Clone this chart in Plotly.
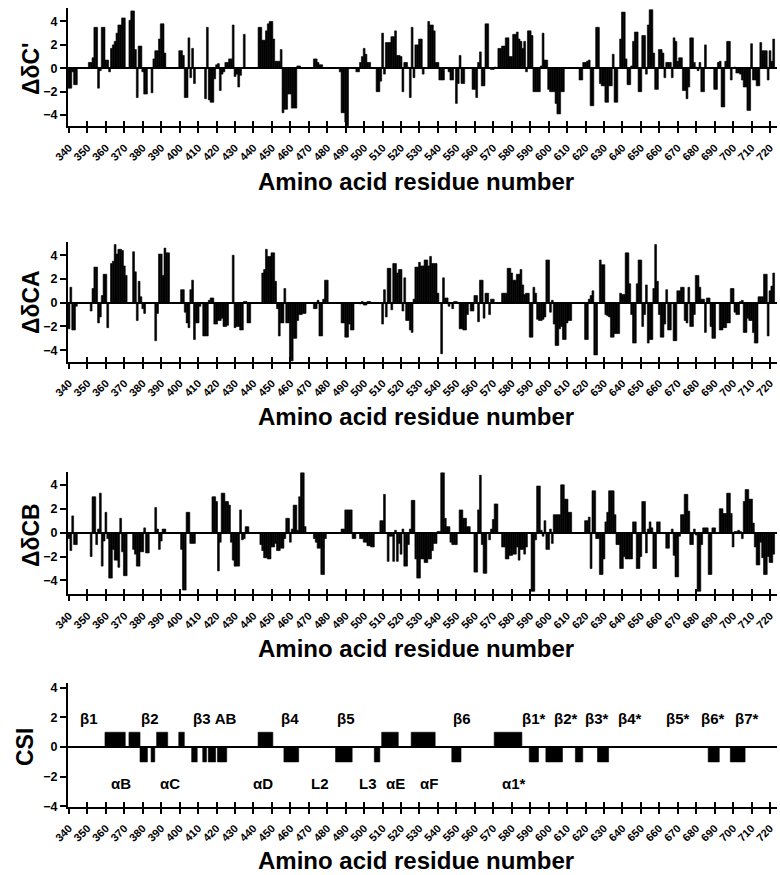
import plotly.graph_objects as go

# ---------------- data (residues 340..722) ----------------
residues = list(range(340, 723))

dCp = [
    -1.7, -1.7, -0.3, -1.4, -1.4, 0, 0, 0, 0, 0,            # 340
    0, 0.5, 0.5, 0.9, 3.5, 3.5, -1.7, -0.2, 3.5, 3.5,         # 350
    0.7, 0.7, -0.3, 1.7, 2.0, 2.3, 3.0, 3.7, 3.7, 4.3,        # 360
    4.3, 0, 0, 4.1, 4.9, 4.9, 1.6, -2.5, 1.9, 1.9,            # 370
    -0.3, -2.2, -2.2, 0, 0, -2.1, 0.8, 1.5, 1.5, 2.5,         # 380
    3.8, 3.8, 1.3, 0, 0, 0, 0, 0, 0, 0,                       # 390
    1.5, 1.5, 1.1, -2.5, -2.5, 2.6, -0.8, 1.7, -1.3, 0,       # 400
    0, 0, 0, 0, -2.6, 3.5, -2.7, -2.9, -2.9, -0.9,            # 410
    0.3, 0.4, -1.9, -0.5, -0.3, 0.5, 0.5, 0.8, 0.8, 3.7,      # 420
    -0.7, -0.5, -1.6, -0.6, 0, 2.9, 0, 0, 0, 0,               # 430
    0, 0, 0, 3.5, 3.5, 2.4, 2.4, 3.2, 3.8, 4.0,               # 440
    4.0, 2.5, 0.6, 0.6, 0.6, 1.6, -3.8, -3.5, -3.5, -2.2,     # 450
    -2.2, -3.4, -3.4, -3.4, 0.2, 0.2, 0, 0, 0, 0,             # 460
    0, 0, 0, 0.8, 0.8, 0.5, 0.3, 0.3, 0, 0,                   # 470
    0, 0, 0, 0, 0, 0, 0, -0.3, -3.8, -3.8,                    # 480
    -4.6, -4.9, 0, 0, 0, 0, -0.3, -0.3, 0.5, 1.0,             # 490
    1.7, 1.2, 0.5, 0.5, 0, 0, 0, -2.0, -2.0, -1.1,            # 500
    3.0, -0.5, 2.2, 2.2, 2.2, 2.7, 2.7, 3.2, 1.1, 1.1,        # 510
    1.0, -2.0, 0.5, 0.5, 0.1, -2.5, 3.5, -0.8, 2.0, 2.0,      # 520
    2.5, 2.5, -0.5, 0, 0, 4.0, 3.7, 3.7, 3.2, 0.5,            # 530
    0.5, -1.0, -1.0, -1.0, 0, 0, -0.3, -1.0, -1.0, 0,         # 540
    -3.0, -1.3, 1.1, -1.3, -1.3, 0, 0, 0, 0, -1.8,            # 550
    -1.8, -2.5, 0.5, 1.4, -1.5, -1.5, 3.8, 3.8, 0, -0.1,      # 560
    -0.1, 0.1, 0, 1.7, 1.7, 1.9, 1.9, 2.6, 2.6, 1.0,          # 570
    1.0, 2.9, 2.9, 3.1, 2.5, 2.3, 1.7, 2.3, -0.3, 3.2,        # 580
    3.2, 2.8, -2.0, -2.0, -2.0, -2.0, 0.2, 3.0, 0.7, 0.7,     # 590
    -1.8, -2.0, -2.0, -2.0, -3.0, -3.9, -3.9, -2.0, -2.0, 0,  # 600
    0, 0, 0, 0, 0, 0, 0, -1.0, -1.0, 0.5,                     # 610
    0.5, 0.6, 0.7, -3.2, -3.2, 0, 3.5, 3.5, -1.3, -1.5,       # 620
    -1.5, -2.9, -2.9, -1.5, -1.5, 1.2, -2.9, -2.9, 0, 2.5,    # 630
    4.8, 4.8, 0.8, -1.4, -1.4, 0.2, 2.3, 3.1, 3.1, -2.0,      # 640
    -2.0, 2.8, 2.8, -0.5, 3.7, 5.0, 5.0, 1.3, -1.8, -1.8,     # 650
    1.6, 1.6, 1.3, -0.8, 0.5, 0.5, 0.5, -0.8, 2.6, 2.3,       # 660
    0.6, 0.9, 0.9, -1.9, -1.9, -2.6, -1.6, 2.6, 2.6, 0.5,     # 670
    0.1, -0.2, 0.5, -2.0, -2.0, 2.0, 0, 0, 0, 0,              # 680
    -1.8, -1.8, 0.5, 0.6, -3.3, -3.3, 0.6, 2.3, 2.3, -1.0,    # 690
    0, 0.1, -0.4, -0.4, -0.5, -1.0, -1.6, -1.6, -3.6, -3.6,   # 700
    2.1, -1.0, -1.0, -1.5, -1.5, 2.2, 1.5, 1.5, 1.5, -1.0,    # 710
    1.5, 0.6, 2.5,                                            # 720
]

dCA = [
    -2.2, 1.3, -2.3, -2.3, -0.3, 0, 0, 0, 0, 0,               # 340
    0, 0, -0.7, 1.2, 3.0, 3.0, -1.7, -1.2, 0.6, 2.4,          # 350
    2.4, -2.1, 0, 3.3, 3.5, 4.9, 4.1, 4.5, 4.5, 4.4,          # 360
    3.1, 2.3, 0, 0, 0, 4.3, 2.6, -1.5, 1.8, 0.5,              # 370
    -0.5, -0.9, 0, 0, 0, 0, 0, -3.2, -0.9, 4.1,               # 380
    4.1, 2.3, 4.6, 4.2, 4.2, 0, 0, 0, 0, 0,                   # 390
    0, 1.1, 1.1, -0.8, -1.7, -2.1, 1.1, 1.9, -3.1, -1.7,      # 400
    -1.7, -0.3, 0, -2.8, -2.8, -2.8, 0.2, 0.4, 0.4, -1.8,     # 410
    -1.8, -1.5, -1.5, -1.3, -2.0, -2.0, -1.9, 0, 0, 4.0,      # 420
    -2.1, -2.0, -2.0, -2.3, -2.3, 0.1, 0.1, -1.7, -1.7, 0,    # 430
    0, 0, 0, 0, 0, 2.5, 2.8, 4.5, 3.9, 3.9,                   # 440
    4.2, 4.2, 1.8, -0.5, -2.8, -1.7, -1.7, 1.2, -1.7, -1.7,   # 450
    -4.9, -4.9, -3.0, -3.0, -1.5, -1.0, -1.0, -0.9, -0.9, 0,  # 460
    0, 0, 0, -0.5, -0.5, 0.2, -2.8, -2.8, 0.3, 1.9,           # 470
    1.9, 0, 0, 0, 0, 0, 0, 0, -1.7, -1.7,                     # 480
    -2.9, -2.9, -1.8, -2.3, -2.3, 0, 0, 0, -0.1, 0.1,         # 490
    -0.2, -0.2, 0.1, 0.1, 0, 0, 0, 0, 0, 0,                   # 500
    -1.8, 1.1, -1.2, 2.9, 2.9, -0.6, 3.3, 3.3, 2.5, 2.8,      # 510
    2.8, -0.7, 2.1, -1.5, -1.5, -2.3, -2.5, 0.3, 3.0, 3.0,    # 520
    3.4, 3.1, 3.1, 3.6, 3.6, 3.1, 3.9, 3.3, 3.3, 3.3,         # 530
    0.8, 0, -4.3, 2.1, 0.4, 0.4, -0.3, 0, -0.5, 0.1,          # 540
    0.1, 0, -2.2, -2.2, -2.3, -2.3, -1.0, 0, -0.7, -0.7,      # 550
    0.6, 0.6, -1.6, 1.9, 1.9, -1.3, 0.8, 0.8, -1.0, 0.3,      # 560
    0.3, 0, 0, 0, 0, 0.8, 0.8, 0.8, 2.9, 2.9,                 # 570
    2.5, 1.9, 1.9, 2.4, 2.4, 2.8, 1.5, 0.7, 0.8, 0.8,         # 580
    -2.9, -2.9, 1.3, 0.8, -1.4, -1.5, -1.5, -1.4, -1.2, 3.6,  # 590
    3.6, -0.8, 0.2, -1.8, -3.6, -3.6, -2.2, -2.0, -3.1, -3.1, # 600
    -1.7, -1.5, -1.5, 0, 0, 0, 0, 0, 0, 0,                    # 610
    -3.1, -3.1, 0.3, 0.6, 1.0, -4.4, -4.4, 0, 3.6, 3.2,       # 620
    3.2, -1.0, -1.1, -1.2, -2.9, -2.9, -2.6, -2.6, -2.6, 0.8, # 630
    0.7, 0.7, 4.2, 4.2, 1.6, -1.0, -3.4, -3.4, 1.6, 3.6,      # 640
    3.6, -2.0, -1.0, 1.5, -3.4, -3.1, -3.1, 1.2, 4.9, 1.8,    # 650
    -1.0, -2.9, -2.9, -1.8, 1.1, -2.3, -2.3, 0, -3.2, -3.2,   # 660
    1.0, 1.0, 1.3, 1.3, -1.5, -1.7, 1.3, -2.0, -2.0, -1.0,    # 670
    2.3, 2.3, 1.3, 0.3, 0.3, -2.5, 0.4, 0.4, -2.0, -3.0,      # 680
    -3.0, 0, 0, -2.3, -2.3, -2.1, -2.1, -1.7, -1.7, 1.2,      # 690
    1.2, -0.8, -1.0, -1.0, 0.1, 0.2, -2.5, -2.5, -1.3, -1.5,  # 700
    -1.5, -2.5, -3.4, -3.4, 0.5, 0.5, 0.5, 2.4, 2.4, -2.8,    # 710
    1.0, 1.4, 2.5,                                            # 720
]

dCB = [
    -0.5, -1.5, 1.4, -1.0, -1.0, 0, 0, 0, 0, 0,               # 340
    0, 0, -2.0, 3.0, 3.0, -1.0, 0.3, 3.3, -2.8, -0.7,         # 350
    1.7, -0.5, -3.8, -3.8, -1.4, -2.3, -2.3, -2.9, 1.2, -1.6, # 360
    -3.6, -3.6, 0, 0, 0, -1.4, -1.8, -2.8, -2.8, -1.6,        # 370
    -1.6, 0.4, -1.7, -1.7, 0, 0, 0, 2.1, 0.3, -1.4,           # 380
    -0.7, 0.3, 0.3, 0, 0, 0, 0, 0, 0, 0,                      # 390
    0, -1.4, -4.8, -4.8, 1.7, 1.7, -0.9, -0.9, -0.9, 0,       # 400
    0, 0, 0, 0, 0, 0, 0, 0, 3.0, 3.0,                         # 410
    2.6, -3.2, -0.8, 3.3, 3.3, 2.6, 2.6, 2.3, -0.8, -2.3,     # 420
    -2.8, -2.8, -2.8, 1.9, -0.6, -0.5, 0.5, 0.5, 0, 0,        # 430
    0, 0, 0, 0, -1.0, -1.5, -2.1, -2.1, -2.2, -2.2,           # 440
    -1.2, -1.2, -0.9, -1.5, -1.5, -1.3, -1.3, -0.5, 1.2, 1.2, # 450
    -0.8, 0.3, 2.3, 2.3, 0.2, 3.0, 5.0, 5.0, 0.5, 0,          # 460
    0, 0, 0, -0.5, -0.8, -1.3, -1.3, -3.5, -3.5, -0.5,        # 470
    0, 0, 0, 0, 0, 0, 0, 0, 0.3, 0.3,                         # 480
    1.9, 1.9, 1.9, 1.9, -0.5, -0.5, 0, 0, -0.5, -0.5,         # 490
    -0.8, -0.8, -1.1, -1.1, -1.2, -1.2, 0, 0, 0, 1.0,         # 500
    1.0, 3.2, 0, -2.4, -0.3, -0.3, -2.4, 0.2, -2.4, -0.9,     # 510
    -1.8, 0.3, -2.8, -2.8, -1.0, 0.3, 2.7, 2.7, -2.2, -3.8,   # 520
    -3.8, -2.2, -2.2, -2.5, -2.5, -2.2, -2.2, -1.5, -0.9, -0.9,  # 530
    0.1, 0.1, 5.0, 5.0, 1.2, 0.5, 0.5, -0.8, -1.0, -1.0,      # 540
    -1.0, 0, 1.9, 1.9, 1.2, 1.2, 0.5, 0.5, 0, 0,              # 550
    -3.3, -3.3, 1.9, 4.8, -1.0, -3.4, -3.4, 0, -0.6, 0.3,     # 560
    1.1, 2.4, 2.4, 0, 0, -1.2, -1.2, -2.2, -2.2, -1.9,        # 570
    -1.9, -1.8, -1.8, -1.2, -2.3, -1.4, -1.4, -1.8, -1.2, 0,  # 580
    0, -4.9, -4.9, -0.6, 3.9, 3.9, 0.2, -0.3, 1.0, -1.4,      # 590
    -1.4, 0.3, -0.9, 1.5, 1.5, 1.5, 1.5, 4.0, 4.0, 2.8,       # 600
    2.8, 1.7, 1.7, 0, 0, 0, 0, 0, 0, 0,                       # 610
    1.0, 1.0, 1.3, -3.0, 3.5, 3.5, -0.5, -0.5, -3.5, -3.5,    # 620
    -2.2, 0.9, 1.7, 3.5, 3.5, 3.5, 1.5, -1.0, -1.0, -3.0,     # 630
    -3.0, -2.0, -2.2, -2.2, -2.2, -2.2, 0.9, 0.9, -3.0, -3.0, # 640
    -2.0, 2.6, 2.6, -1.7, 0.3, 0.9, 0.4, -3.0, -3.0, 0.9,     # 650
    0.9, 0, 0, 0, -1.3, -1.3, 0, 0.3, -1.9, -3.7,             # 660
    -3.7, -0.3, 1.5, 1.5, 3.2, 3.2, 1.8, -1.0, -1.0, 0.3,     # 670
    -0.2, -4.9, -4.9, -1.0, 0.4, 0.4, 0.4, -3.5, -3.5, 0.4,   # 680
    0.4, 0, 0, 2.0, 2.0, 1.6, 1.6, 3.3, 3.3, 1.6,             # 690
    -1.2, 0.1, 0.1, 0.2, 0.1, -0.5, 2.6, 3.6, 3.6, 2.8,       # 700
    2.8, 0.8, -1.2, -2.7, -2.7, -0.8, -2.1, -3.5, -3.5, -2.0, # 710
    -2.5, -2.5, -1.8,                                         # 720
]

# CSI consensus blocks: first residue, last residue, index
csi_start = [360, 373, 379, 385, 388, 400, 407, 413, 416, 421, 443, 457, 485,
             506, 510, 526, 548, 571, 590, 599, 615, 627, 687, 699]
csi_end = [370, 378, 382, 386, 393, 402, 409, 414, 419, 425, 450, 464, 493,
           508, 518, 538, 552, 585, 594, 607, 618, 632, 692, 706]
csi_value = [1, 1, -1, -1, 1, 1, -1, -1, -1, -1, 1, -1, -1,
             -1, 1, 1, -1, 1, -1, -1, -1, -1, -1, -1]

# secondary-structure labels
upper_labels = ["β1", "β2", "β3 AB", "β4", "β5", "β6", "β1*", "β2*", "β3*",
                "β4*", "β5*", "β6*", "β7*"]
upper_label_res = [351, 384, 419, 460, 490, 553, 592, 609, 626, 644, 670, 689, 707]
lower_labels = ["αB", "αC", "αD", "L2", "L3", "αE", "αF", "α1*"]
lower_label_res = [368, 395, 445, 476, 502, 517, 535, 581]

y_titles = ["ΔδC'", "ΔδCA", "ΔδCB", "CSI"]
x_title = "Amino acid residue number"

# ---------------- figure ----------------
W, H = 780, 875
FONT = "Liberation Sans, Arial, sans-serif"

x_px = (68, 777)
x_range = [339.46, 723.8]
# plot-area top/bottom in pixels and y ranges
y_px = [(8, 126), (242.3, 361.7), (472, 594), (683, 806.7)]
y_ranges = [(-4.93, 5.15), (-4.97, 5.09), (-5.13, 5.07), (-4.02, 4.32)]
title_y_px = [181, 416, 648, 860]
ytitle_y_px = [68, 302, 535, 747]
ytitle_x_px = [31, 31, 31, 25]

fig = go.Figure()

bar_kw = dict(marker=dict(color="black", line=dict(color="black", width=0.6)),
              showlegend=False, hoverinfo="skip")

for i, vals in enumerate([dCp, dCA, dCB]):
    n = i + 1
    fig.add_trace(go.Bar(x=residues, y=vals, width=1,
                         xaxis=f"x{n}", yaxis=f"y{n}", **bar_kw))

csi_x = [(s + e) / 2 for s, e in zip(csi_start, csi_end)]
csi_w = [e - s + 1 for s, e in zip(csi_start, csi_end)]
fig.add_trace(go.Bar(x=csi_x, y=csi_value, width=csi_w,
                     xaxis="x4", yaxis="y4", **bar_kw))

# empty traces so the overlaying tick axes get built
for i in range(4):
    fig.add_trace(go.Scatter(x=[], y=[], xaxis=f"x{i+5}", yaxis=f"y{i+1}",
                             showlegend=False))

layout = dict(
    width=W, height=H,
    margin=dict(l=0, r=0, t=0, b=0),
    paper_bgcolor="white", plot_bgcolor="white",
    template="none", showlegend=False, bargap=0,
    font=dict(family=FONT, color="black"),
)

xdom = [x_px[0] / W, x_px[1] / W]
annotations = []
for i in range(4):
    n = i + 1
    top, bot = y_px[i]
    ydom = [1 - bot / H, 1 - top / H]
    layout[f"xaxis{n}"] = dict(
        domain=xdom, range=x_range, anchor=f"y{n}",
        showline=True, linecolor="black", linewidth=2,
        ticks="outside", ticklen=5, tickwidth=2, tickcolor="black",
        tickmode="linear", tick0=340, dtick=10, tickangle=-45,
        ticklabelstandoff=4,
        tickfont=dict(family=FONT, size=11, color="black", weight="bold"),
        showgrid=False, zeroline=False, fixedrange=True,
    )
    layout[f"xaxis{n+4}"] = dict(
        domain=xdom, range=x_range, anchor=f"y{n}", overlaying=f"x{n}",
        side="bottom", showline=False,
        ticks="inside", ticklen=5, tickwidth=2, tickcolor="black",
        tickmode="linear", tick0=340, dtick=10, showticklabels=False,
        showgrid=False, zeroline=False, fixedrange=True,
    )
    layout[f"yaxis{n}"] = dict(
        domain=ydom, range=list(y_ranges[i]), anchor=f"x{n}",
        showline=True, linecolor="black", linewidth=2,
        ticks="outside", ticklen=6, tickwidth=2, tickcolor="black",
        tickmode="array", tickvals=[-4, -2, 0, 2, 4],
        tickfont=dict(family=FONT, size=12.5, color="black", weight="bold"),
        showgrid=False, zeroline=True, zerolinecolor="black", zerolinewidth=2,
        fixedrange=True,
    )
    annotations.append(dict(
        text=f"<b>{x_title}</b>", xref="paper", yref="paper",
        x=416 / W, y=1 - title_y_px[i] / H, xanchor="center", yanchor="middle",
        showarrow=False, font=dict(family=FONT, size=24, color="black")))
    annotations.append(dict(
        text=f"<b>{y_titles[i]}</b>", xref="paper", yref="paper",
        x=ytitle_x_px[i] / W, y=1 - ytitle_y_px[i] / H, textangle=-90,
        xanchor="center", yanchor="middle",
        showarrow=False, font=dict(family=FONT, size=23, color="black")))

for lab, r in zip(upper_labels, upper_label_res):
    annotations.append(dict(text=f"<b>{lab}</b>", xref="x4", yref="y4", x=r, y=1.9,
                            showarrow=False, xanchor="center", yanchor="middle",
                            font=dict(family=FONT, size=15, color="black")))
for lab, r in zip(lower_labels, lower_label_res):
    annotations.append(dict(text=f"<b>{lab}</b>", xref="x4", yref="y4", x=r, y=-2.45,
                            showarrow=False, xanchor="center", yanchor="middle",
                            font=dict(family=FONT, size=15, color="black")))

layout["annotations"] = annotations
fig.update_layout(**layout)

fig.write_html("out.html",
               config={"displayModeBar": False, "staticPlot": True},
               post_script="document.body.style.margin='0';"
                           "document.body.style.padding='0';")
